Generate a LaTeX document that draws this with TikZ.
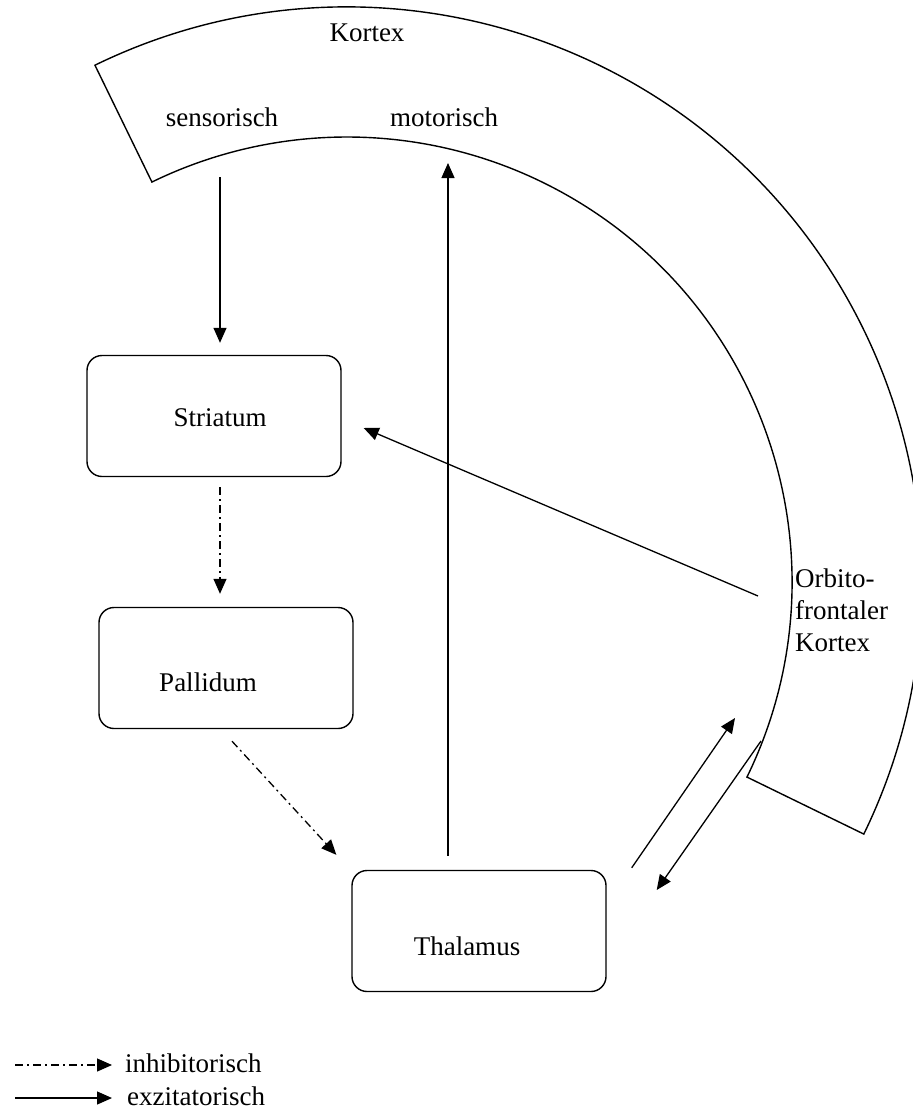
\documentclass[tikz,border=0pt]{standalone}
\usepackage{fontspec}
\setmainfont{Liberation Serif}
\usetikzlibrary{arrows.meta,calc}
\begin{document}
\begin{tikzpicture}[x=1pt,y=1pt,
  every node/.style={font=\fontsize{27}{32}\selectfont, inner sep=0pt},
  box/.style={draw, line width=1.4pt, rounded corners=15pt, minimum width=254pt, minimum height=121pt},
  exc/.style={line width=1.3pt, -{Triangle[length=15pt,width=13pt]}},
  inh/.style={line width=1.3pt, dash pattern=on 8pt off 4pt on 2pt off 4pt, -{Triangle[length=15pt,width=13pt]}},
  ring/.style={draw, line width=1.4pt}]
\clip (0,0) rectangle (913,-1112);
% cortex ring
\coordinate (ctr) at (347,-582);
\draw[ring] ($(ctr)+(116:575)$) arc[start angle=116, end angle=-26, radius=575]
  -- ($(ctr)+(-26:445)$) arc[start angle=-26, end angle=116, radius=445] -- cycle;
\node (kortex) at (367,-33) {Kortex};
\node (sens) at (222,-117) {sensorisch};
\node (mot) at (444,-117) {motorisch};
\node[align=left, anchor=west] (orb) at (795,-610) {Orbito-\\frontaler\\Kortex};
% boxes
\node[box] (S) at (214,-416) {};
\node at (220,-418) {Striatum};
\node[box] (P) at (226,-668) {};
\node at (208,-682) {Pallidum};
\node[box] (T) at (479,-931) {};
\node at (467,-946) {Thalamus};
% connector ends on the cortex
\coordinate (sensA) at (220,-177);
\coordinate (motA) at (448,-163);
\coordinate (orbA) at (758,-596);
\coordinate (orbB) at (735,-718);
\coordinate (orbC) at (761,-741);
% connectors
\draw[exc, shorten >=12pt] (sensA) -- (sensA |- S.north);
\draw[exc] ([xshift=-31pt,yshift=14pt]T.north) -- (motA);
\draw[exc] (orbA) -- ([xshift=22pt,yshift=-12pt]S.east);
\draw[inh, shorten <=10pt, shorten >=13pt] ([xshift=6pt]S.south) -- ([xshift=-6pt]P.north);
\draw[inh] ([xshift=6pt,yshift=-12pt]P.south) -- ([xshift=-15pt,yshift=15pt]T.north west);
\draw[exc] ([xshift=25pt,yshift=2pt]T.north east) -- (orbB);
\draw[exc] (orbC) -- ([xshift=50pt,yshift=41pt]T.east);
% legend
\coordinate (l1a) at (15,-1065);
\coordinate (l1b) at (112,-1065);
\coordinate (l2a) at (15,-1098);
\coordinate (l2b) at (112,-1098);
\draw[inh] (l1a) -- (l1b);
\draw[exc] (l2a) -- (l2b);
\node[anchor=west] (inhL) at (125,-1063) {inhibitorisch};
\node[anchor=west] (excL) at (127,-1096) {exzitatorisch};
\end{tikzpicture}
\end{document}
